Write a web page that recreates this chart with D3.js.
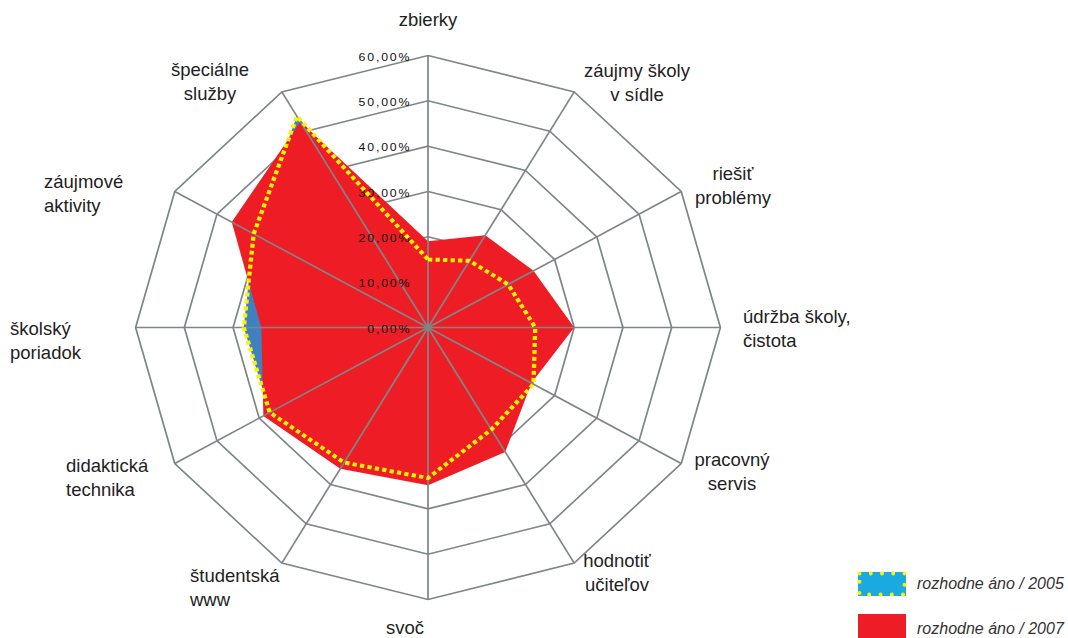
<!DOCTYPE html>
<html>
<head>
<meta charset="utf-8">
<script src="https://cdn.jsdelivr.net/npm/d3@7"></script>
<style>
  html, body { margin: 0; padding: 0; background: #fff; }
  svg { display: block; }
  .axislabel { font-family: "Liberation Sans", Arial, sans-serif; font-size: 18.5px; fill: #222; }
  .tick { font-family: "Liberation Sans", Arial, sans-serif; font-size: 11.5px; letter-spacing: 1.7px; fill: #111; }
  .legend { font-family: "Liberation Sans", Arial, sans-serif; font-size: 16px; font-style: italic; fill: #333; }
</style>
</head>
<body>
<svg id="chart" width="1068" height="638"></svg>
<script>
"use strict";

// categories, clockwise from the top
var categories = [
	["zbierky"],
	["záujmy školy", "v sídle"],
	["riešiť", "problémy"],
	["údržba školy,", "čistota"],
	["pracovný", "servis"],
	["hodnotiť", "učiteľov"],
	["svoč"],
	["študentská", "www"],
	["didaktická", "technika"],
	["školský", "poriadok"],
	["záujmové", "aktivity"],
	["špeciálne", "služby"]
];

var values2005 = [15, 17, 19, 22, 25, 26, 33.2, 34.4, 37.5, 37.8, 41.3, 53.8];
var values2007 = [19, 23.5, 25, 30, 24.5, 31.7, 34.8, 36, 39, 34.2, 46.5, 52.4];

var ticks = [0, 10, 20, 30, 40, 50, 60];
var tickLabels = ["0,00%", "10,00%", "20,00%", "30,00%", "40,00%", "50,00%", "60,00%"];

var legendLabels = ["rozhodne áno / 2005", "rozhodne áno / 2007"];

// label layout: [x, y of first baseline, anchor]
var labelLayout = [
	[428, 26, "middle"],
	[637, 77, "middle"],
	[733, 180, "middle"],
	[743, 323, "start"],
	[732, 466, "middle"],
	[617, 567, "middle"],
	[405, 634, "middle"],
	[190, 582, "start"],
	[66, 472, "start"],
	[10, 335, "start"],
	[44, 188, "start"],
	[210, 76, "middle"]
];

document.addEventListener("DOMContentLoaded", init);

function init() {
	var cx = 428, cy = 327.5;
	var sx = 1.075; // the original graphic is a bit wider than tall
	var svg = d3.select("#chart");
	var g = svg.append("g").attr("transform", "translate(" + cx + "," + cy + ") scale(" + sx + ",1)");

	var n = categories.length;
	var angle = d3.scaleLinear().domain([0, n]).range([0, 2 * Math.PI]);
	var r = d3.scaleLinear().domain([0, 60]).range([0, 272]);

	var radial = d3.lineRadial()
		.angle((d, i) => angle(i))
		.radius(d => r(d))
		.curve(d3.curveLinearClosed);

	// grid rings (under the fills)
	g.selectAll(".ring")
	 .data(ticks.slice(1))
	 .enter()
	 .append("path")
	 .attr("class", "ring")
	 .attr("d", t => radial(d3.range(n).map(() => t)))
	 .attr("fill", "none")
	 .attr("stroke", "#7f8687")
	 .attr("stroke-width", 1.6);

	// fills
	g.append("path")
	 .attr("d", radial(values2005))
	 .attr("fill", "#3f80c0");
	g.append("path")
	 .attr("d", radial(values2007))
	 .attr("fill", "#ee1c25");

	// spokes (over the fills)
	g.selectAll(".spoke")
	 .data(d3.range(n))
	 .enter()
	 .append("line")
	 .attr("class", "spoke")
	 .attr("x1", 0).attr("y1", 0)
	 .attr("x2", i => Math.sin(angle(i)) * r(60))
	 .attr("y2", i => -Math.cos(angle(i)) * r(60))
	 .attr("stroke", "#7f8687")
	 .attr("stroke-width", 1.6);

	// tick labels
	g.selectAll(".tick")
	 .data(ticks)
	 .enter()
	 .append("text")
	 .attr("class", "tick")
	 .attr("x", -15.5)
	 .attr("y", t => -r(t) + 5)
	 .attr("text-anchor", "end")
	 .text((t, i) => tickLabels[i]);

	// 2005 outline, dotted yellow
	g.append("path")
	 .attr("d", radial(values2005))
	 .attr("fill", "none")
	 .attr("stroke", "#fff200")
	 .attr("stroke-width", 4)
	 .attr("stroke-dasharray", "4,3");

	// category labels
	var labels = svg.selectAll(".axislabel")
		.data(categories)
		.enter()
		.append("text")
		.attr("class", "axislabel")
		.attr("text-anchor", (d, i) => labelLayout[i][2]);
	labels.each(function(lines, i) {
		var t = d3.select(this);
		lines.forEach((line, k) => {
			t.append("tspan")
			 .attr("x", labelLayout[i][0])
			 .attr("y", labelLayout[i][1] + k * 23.5)
			 .text(line);
		});
	});

	// legend
	var lg = svg.append("g").attr("transform", "translate(858,572)");
	lg.append("rect")
	  .attr("width", 48).attr("height", 24)
	  .attr("fill", "#1aa9e1");
	lg.append("rect")
	  .attr("x", 1.5).attr("y", 1.5)
	  .attr("width", 45).attr("height", 21)
	  .attr("fill", "none")
	  .attr("stroke", "#fff200")
	  .attr("stroke-width", 4)
	  .attr("stroke-linecap", "round")
	  .attr("stroke-dasharray", "0,11.25");
	lg.append("rect")
	  .attr("y", 42)
	  .attr("width", 48).attr("height", 26)
	  .attr("fill", "#ee1c25");
	lg.selectAll(".legend")
	  .data(legendLabels)
	  .enter()
	  .append("text")
	  .attr("class", "legend")
	  .attr("x", 59)
	  .attr("y", (d, i) => 17 + i * 45)
	  .text(d => d);
}
</script>
</body>
</html>
